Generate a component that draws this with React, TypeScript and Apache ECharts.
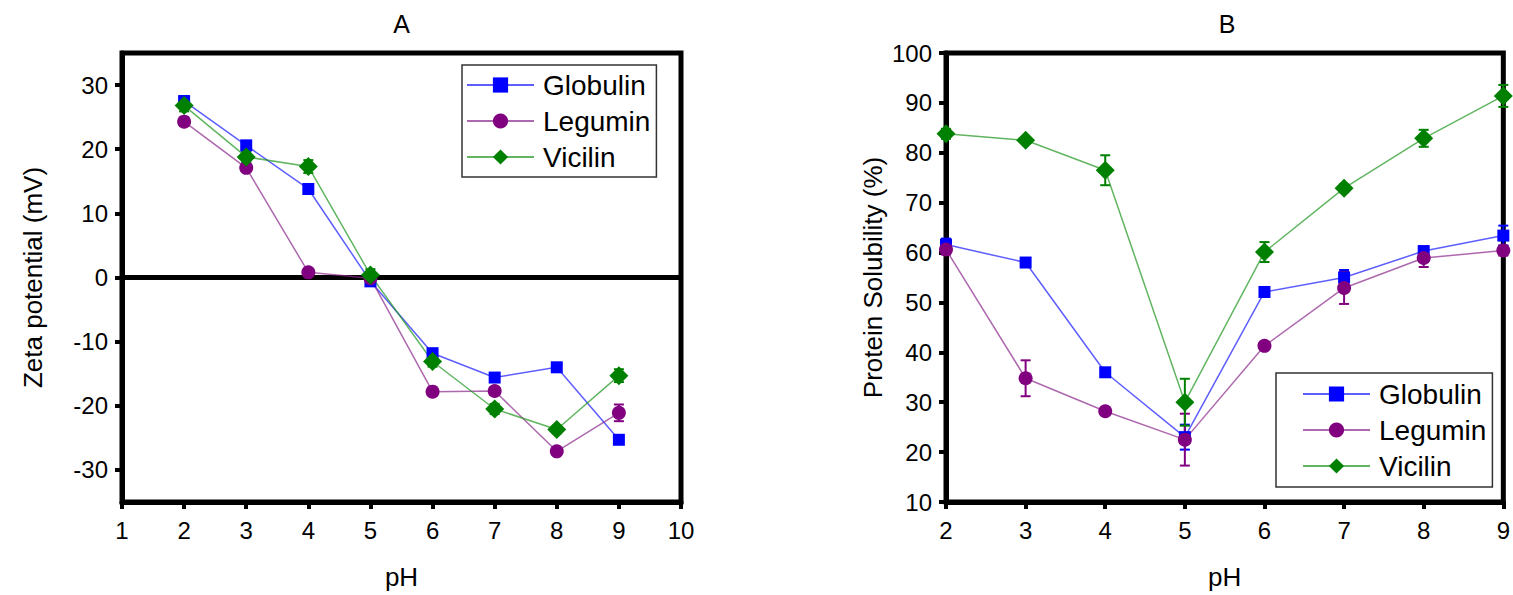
import React, { useEffect, useRef } from "react";
import * as echarts from "echarts";

// pH values of the measurements
const PH = [2, 3, 4, 5, 6, 7, 8, 9];

// Panel A: zeta potential (mV)
const ZETA_GLOBULIN = [27.5, 20.6, 13.8, -0.6, -11.8, -15.6, -14.0, -25.3];
const ZETA_LEGUMIN = [24.3, 17.1, 0.8, -0.1, -17.8, -17.7, -27.1, -21.1];
const ZETA_VICILIN = [26.8, 18.8, 17.3, 0.4, -13.1, -20.5, -23.7, -15.3];
const ZETA_SD_GLOBULIN = [0.8, 0.4, 0.5, 0.5, 0.5, 0.4, 0.4, 0.4];
const ZETA_SD_LEGUMIN = [0.6, 0.5, 0.4, 0.4, 0.4, 0.6, 0.5, 1.3];
const ZETA_SD_VICILIN = [0.9, 0.8, 1.0, 0.9, 0.8, 0.8, 0.6, 1.0];

// Panel B: protein solubility (%)
const SOL_GLOBULIN = [61.6, 58.0, 36.0, 23.0, 52.1, 55.0, 60.3, 63.4];
const SOL_LEGUMIN = [60.6, 34.8, 28.2, 22.5, 41.3, 52.9, 58.9, 60.4];
const SOL_VICILIN = [83.8, 82.5, 76.5, 30.0, 60.1, 72.9, 82.9, 91.4];
const SOL_SD_GLOBULIN = [1.2, 0.5, 0.5, 2.5, 1.0, 1.5, 0.8, 2.0];
const SOL_SD_LEGUMIN = [1.0, 3.6, 0.5, 5.2, 0.5, 3.2, 1.8, 1.0];
const SOL_SD_VICILIN = [1.0, 0.5, 3.0, 4.7, 2.0, 0.8, 1.7, 2.2];

// Axis tick values
const ZETA_TICKS = [-30, -20, -10, 0, 10, 20, 30];

const NAMES = ["Globulin", "Legumin", "Vicilin"];
const COLORS = ["#0000ff", "#800080", "#008000"];
const LINE_COLORS = ["rgba(40,40,255,0.75)", "rgba(140,40,140,0.7)", "rgba(30,150,30,0.7)"];
const SYMBOLS = ["rect", "circle", "diamond"];
const SYMBOL_SIZES = [12, 14, 19];

const FONT = "'Liberation Sans', Arial, sans-serif";

const GRID_A = { left: 122, top: 53, width: 559, height: 449 };
const GRID_B = { left: 946, top: 53, width: 562, height: 449 };

function errorBarRenderer(color: string) {
  return (_params: any, api: any) => {
    const x = api.value(0);
    const hi = api.coord([x, api.value(2)]);
    const lo = api.coord([x, api.value(1)]);
    const cap = 5;
    const style = { stroke: color, lineWidth: 2 };
    return {
      type: "group",
      children: [
        { type: "line", shape: { x1: hi[0], y1: hi[1], x2: lo[0], y2: lo[1] }, style },
        { type: "line", shape: { x1: hi[0] - cap, y1: hi[1], x2: hi[0] + cap, y2: hi[1] }, style },
        { type: "line", shape: { x1: lo[0] - cap, y1: lo[1], x2: lo[0] + cap, y2: lo[1] }, style },
      ],
    };
  };
}

function lineSeries(i: number, values: number[], axis: number, extra: any = {}) {
  return {
    type: "line",
    name: NAMES[i],
    xAxisIndex: axis,
    yAxisIndex: axis,
    data: PH.map((p, k) => [p, values[k]]),
    symbol: SYMBOLS[i],
    symbolSize: SYMBOL_SIZES[i],
    showAllSymbol: true,
    itemStyle: { color: COLORS[i] },
    lineStyle: { color: LINE_COLORS[i], width: 1.5 },
    z: 3,
    ...extra,
  };
}

function sdSeries(i: number, values: number[], sd: number[], axis: number) {
  return {
    type: "custom",
    name: NAMES[i] + " SD",
    xAxisIndex: axis,
    yAxisIndex: axis,
    data: PH.map((p, k) => [p, values[k] - sd[k], values[k] + sd[k]]),
    encode: { x: 0, y: [1, 2] },
    renderItem: errorBarRenderer(COLORS[i]),
    z: 2,
    silent: true,
  };
}

const axisLineStyle = { lineStyle: { color: "#000", width: 5 } };
const tickStyle = { show: true, inside: false, length: 7, lineStyle: { color: "#000", width: 4 } };
const labelStyle = { color: "#000", fontSize: 24, fontFamily: FONT };
const nameStyle = { color: "#000", fontSize: 26, fontFamily: FONT };

function legend(left: number, top: number, padLeft: number, padTop: number) {
  return {
    data: NAMES,
    orient: "vertical",
    left,
    top,
    padding: [padTop, 6, padTop, padLeft],
    itemWidth: 67,
    itemHeight: 19,
    itemGap: 6,
    borderColor: "#333",
    borderWidth: 1.5,
    backgroundColor: "#fff",
    selectedMode: false,
    textStyle: { color: "#000", fontSize: 28, fontFamily: FONT, lineHeight: 30, padding: [0, 0, 0, 4] },
  };
}

export default function App() {
  const ref = useRef<HTMLDivElement>(null);

  useEffect(() => {
    if (!ref.current) return;
    const chart = echarts.init(ref.current, undefined, { renderer: "svg" });
    const option: any = {
      animation: false,
      backgroundColor: "#fff",
      textStyle: { fontFamily: FONT },
      grid: [
        { ...GRID_A, show: true, borderColor: "#000", borderWidth: 5, containLabel: false },
        { ...GRID_B, show: true, borderColor: "#000", borderWidth: 5, containLabel: false },
      ],
      xAxis: [
        {
          type: "value",
          gridIndex: 0,
          min: 1,
          max: 10,
          interval: 1,
          name: "pH",
          nameLocation: "middle",
          nameGap: 62,
          nameTextStyle: nameStyle,
          axisLine: { onZero: false, ...axisLineStyle },
          axisTick: tickStyle,
          axisLabel: { ...labelStyle, margin: 16 },
          splitLine: { show: false },
        },
        {
          type: "value",
          gridIndex: 1,
          min: 2,
          max: 9,
          interval: 1,
          name: "pH",
          nameLocation: "middle",
          nameGap: 62,
          nameTextStyle: nameStyle,
          axisLine: { onZero: false, ...axisLineStyle },
          axisTick: tickStyle,
          axisLabel: { ...labelStyle, margin: 16 },
          splitLine: { show: false },
        },
      ],
      yAxis: [
        {
          type: "value",
          gridIndex: 0,
          min: -35,
          max: 35,
          name: "Zeta potential (mV)",
          nameLocation: "middle",
          nameGap: 76,
          nameTextStyle: nameStyle,
          axisLine: { onZero: false, ...axisLineStyle },
          axisTick: { ...tickStyle, customValues: ZETA_TICKS },
          axisLabel: { ...labelStyle, margin: 14, customValues: ZETA_TICKS },
          splitLine: { show: false },
        },
        {
          type: "value",
          gridIndex: 1,
          min: 10,
          max: 100,
          interval: 10,
          name: "Protein Solubility (%)",
          nameLocation: "middle",
          nameGap: 60,
          nameTextStyle: nameStyle,
          axisLine: { onZero: false, ...axisLineStyle },
          axisTick: tickStyle,
          axisLabel: { ...labelStyle, margin: 14 },
          splitLine: { show: false },
        },
      ],
      legend: [legend(462, 65, 4, 5), legend(1276, 373, 26, 6)],
      graphic: [
        {
          type: "text",
          x: GRID_A.left + GRID_A.width / 2,
          y: 24,
          style: { text: "A", font: `25px ${FONT}`, fill: "#000", align: "center", verticalAlign: "middle" },
        },
        {
          type: "text",
          x: GRID_B.left + GRID_B.width / 2,
          y: 24,
          style: { text: "B", font: `25px ${FONT}`, fill: "#000", align: "center", verticalAlign: "middle" },
        },
      ],
      series: [
        sdSeries(0, ZETA_GLOBULIN, ZETA_SD_GLOBULIN, 0),
        sdSeries(1, ZETA_LEGUMIN, ZETA_SD_LEGUMIN, 0),
        sdSeries(2, ZETA_VICILIN, ZETA_SD_VICILIN, 0),
        lineSeries(0, ZETA_GLOBULIN, 0, {
          markLine: {
            silent: true,
            symbol: "none",
            z: 1,
            label: { show: false },
            lineStyle: { color: "#000", width: 5, type: "solid" },
            emphasis: { disabled: true },
            data: [{ yAxis: 0 }],
          },
        }),
        lineSeries(1, ZETA_LEGUMIN, 0),
        lineSeries(2, ZETA_VICILIN, 0),
        sdSeries(0, SOL_GLOBULIN, SOL_SD_GLOBULIN, 1),
        sdSeries(1, SOL_LEGUMIN, SOL_SD_LEGUMIN, 1),
        sdSeries(2, SOL_VICILIN, SOL_SD_VICILIN, 1),
        lineSeries(0, SOL_GLOBULIN, 1),
        lineSeries(1, SOL_LEGUMIN, 1),
        lineSeries(2, SOL_VICILIN, 1),
      ],
    };
    chart.setOption(option);
    return () => chart.dispose();
  }, []);

  return (
    <div
      ref={ref}
      style={{ position: "fixed", left: 0, top: 0, width: 1513, height: 595, background: "#fff" }}
    />
  );
}
